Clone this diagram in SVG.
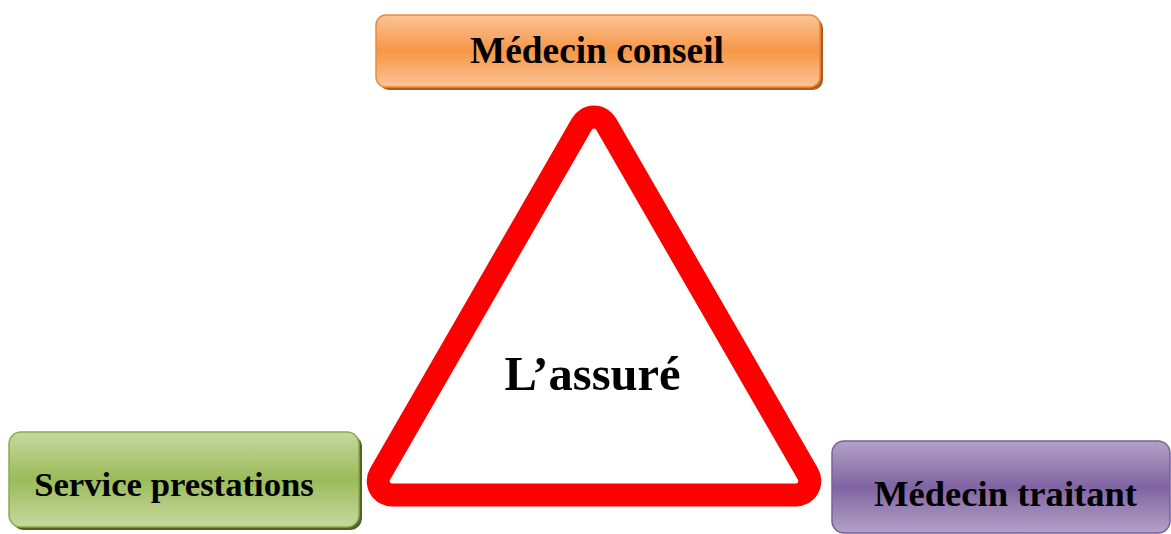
<svg xmlns="http://www.w3.org/2000/svg" width="1171" height="534" viewBox="0 0 1171 534">
<defs>
<linearGradient id="gOrange" x1="0" y1="0" x2="0" y2="1">
<stop offset="0" stop-color="#fac497"/><stop offset="0.5" stop-color="#f79646"/><stop offset="1" stop-color="#fac497"/>
</linearGradient>
<linearGradient id="gGreen" x1="0" y1="0" x2="0" y2="1">
<stop offset="0" stop-color="#c5d99f"/><stop offset="0.5" stop-color="#9bbb59"/><stop offset="1" stop-color="#c5d99f"/>
</linearGradient>
<linearGradient id="gPurple" x1="0" y1="0" x2="0" y2="1">
<stop offset="0" stop-color="#b3a2c7"/><stop offset="0.5" stop-color="#8064a2"/><stop offset="1" stop-color="#b3a2c7"/>
</linearGradient>
<style>
.lbl{font-family:"Liberation Serif","Times New Roman",serif;font-weight:bold;fill:#000;text-anchor:middle}
</style>
</defs>
<rect width="1171" height="534" fill="#fff"/>
<g id="connectors"></g>
<g id="node-assure">
<path d="M 581.9,124 A 14 14 0 0 1 606.1,124 L 807.9,474 A 14 14 0 0 1 795.8,495 L 392.2,495 A 14 14 0 0 1 380.1,474 Z" fill="#fff" stroke="#ff0000" stroke-width="23" stroke-linejoin="round"/>
<text class="lbl" x="592.5" y="390" font-size="48.5">L’assuré</text>
</g>
<g id="node-medecin-conseil">
<rect x="379" y="18" width="444" height="72" rx="10" fill="#b45a1b"/>
<rect x="376" y="15" width="444" height="72" rx="10" fill="url(#gOrange)" stroke="#ec8a3e" stroke-width="1.5"/>
<text class="lbl" x="597" y="63" font-size="37.3">Médecin conseil</text>
</g>
<g id="node-service-prestations">
<rect x="12" y="435" width="350" height="95" rx="12" fill="#4f6228"/>
<rect x="9" y="432" width="350" height="95" rx="12" fill="url(#gGreen)" stroke="#8aab4a" stroke-width="1.5"/>
<text class="lbl" x="174" y="496" font-size="34.7">Service prestations</text>
</g>
<g id="node-medecin-traitant">
<rect x="832" y="441" width="338" height="92" rx="12" fill="url(#gPurple)" stroke="#7a5f9c" stroke-width="1.5"/>
<text class="lbl" x="1005.5" y="506" font-size="36.6">Médecin traitant</text>
</g>
</svg>
